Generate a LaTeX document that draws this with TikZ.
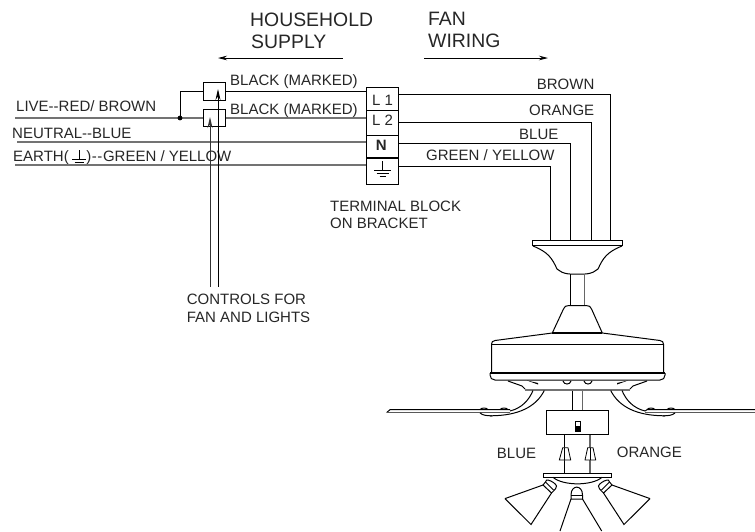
\documentclass[tikz,border=0pt]{standalone}
\usepackage{fontspec}
\setmainfont{Liberation Sans}
\usetikzlibrary{arrows.meta}
\tikzset{
  wire/.style={line width=1pt,black},
  gwire/.style={line width=1.2pt,black!55},
  part/.style={line width=1pt,black},
  lbl/.style={font=\fontsize{15}{17}\selectfont,text=black!85,inner sep=0pt,anchor=base west},
  big/.style={font=\fontsize{19.4}{22}\selectfont,text=black!85,inner sep=0pt,anchor=base west},
  arrow/.style={line width=1pt,-{Stealth[length=11pt,width=5pt]}},
  dirarrow/.style={line width=.8pt,-{Stealth[length=9pt,width=4.5pt]}},
  bx/.style={draw,line width=1pt,inner sep=0pt,minimum size=0pt,fill=white}
}
\begin{document}
\begin{tikzpicture}[x=1pt,y=-1pt]
\useasboundingbox (0,0) rectangle (755,531);
% headers
\node[big] (hh) at (250,26) {HOUSEHOLD};
\node[big] (sp) at (251,48) {SUPPLY};
\node[big] (fa) at (428,25) {FAN};
\node[big] (wi) at (428,47.3) {WIRING};
\coordinate (hs1) at (342.7,58); \coordinate (hs2) at (218,58);
\coordinate (fw1) at (424,58); \coordinate (fw2) at (548,58);
\draw[dirarrow] (hs1) -- (hs2);
\draw[dirarrow] (fw1) -- (fw2);
% supply lines
\coordinate (liveL) at (15,118); \coordinate (dot) at (180,118);
\coordinate (neuL) at (17,142); \coordinate (earL) at (15,165);
\node[lbl] (lv) at (16,111.7) {LIVE-{}-RED/ BROWN};
\node[lbl] (ne) at (12,138) {NEUTRAL-{}-BLUE};
\node[lbl] (ea) at (13,161) {EARTH(\hspace{17.5pt})\hspace{.6pt}-\hspace{.6pt}-\hspace{.6pt}GREEN / YELLOW};
\draw[line width=.8pt] (72,159.5)--(86,159.5) (79,150)--(79,159.5) (74.5,162)--(83.5,162) (76.5,164)--(81.5,164);
% terminal block
\node[bx,minimum width=32pt,minimum height=23.4pt] (L1) at (382.7,99) {};
\node[bx,minimum width=32pt,minimum height=25pt] (L2) at (382.7,123.2) {};
\node[bx,minimum width=32pt,minimum height=22.3pt] (N) at (382.7,146.8) {};
\node[bx,minimum width=32pt,minimum height=26pt] (E) at (382.7,171) {};
\node[lbl] (t1) at (372,105) {L 1};
\node[lbl] (t2) at (372,125.7) {L 2};
\node[lbl,font=\fontsize{15}{17}\selectfont\bfseries] (t3) at (375.7,150) {N};
\draw[line width=.8pt] (374,170)--(391,170) (382.5,161)--(382.5,170) (376.5,173)--(388.5,173) (379.5,176)--(385.5,176);
% switches
\node[bx,minimum width=22pt,minimum height=17.5pt] (S1) at (214,91.5) {};
\node[bx,minimum width=22pt,minimum height=17.5pt] (S2) at (214,118) {};
\draw[gwire] (liveL) -- (dot);
\draw[gwire] (dot) -- (S2.west);
\draw[wire] (dot) |- (S1.west);
\fill (dot) circle (2.4pt);
\draw[gwire] (neuL) -- (N.west |- neuL);
\draw[gwire] (earL) -- (E.west |- earL);
\draw[wire] (S1.east) -- (L1.west |- S1.east);
\draw[gwire] (S2.east) -- (L2.west |- S2.east);
\node[lbl] (b1) at (230,85) {BLACK (MARKED)};
\node[lbl] (b2) at (230,114) {BLACK (MARKED)};
\coordinate (c1) at (218,286.7); \coordinate (c1t) at (218,89);
\coordinate (c2) at (210,286.7); \coordinate (c2t) at (210,117);
\draw[arrow] (c1) -- (c1t);
\draw[arrow,black!80] (c2) -- (c2t);
\node[lbl] (ct1) at (186.7,304) {CONTROLS FOR};
\node[lbl] (ct2) at (186.7,322.7) {FAN AND LIGHTS};
\node[lbl] (tb1) at (330,211.7) {TERMINAL BLOCK};
\node[lbl] (tb2) at (330,228) {ON BRACKET};
% fan wires
\coordinate (wE) at (550.5,241); \coordinate (wB) at (570,241);
\coordinate (wO) at (591,241); \coordinate (wBr) at (610,241);
\draw[wire] (L1.east |- 0,94.3) -- (610,94.3) -- (wBr);
\draw[wire] (L2.east |- 0,122.3) -- (591,122.3) -- (wO);
\draw[wire] (N.east |- 0,143) -- (570,143) -- (wB);
\draw[wire] (E.east |- 0,166) -- (550.5,166) -- (wE);
\node[lbl] (w1) at (536.7,89) {BROWN};
\node[lbl] (w2) at (529,115.7) {ORANGE};
\node[lbl] (w3) at (519,139) {BLUE};
\node[lbl] (w4) at (426,160.7) {GREEN / YELLOW};
\node[lbl] (w5) at (496.7,458.7) {BLUE};
\node[lbl] (w6) at (616.7,457.7) {ORANGE};
% canopy
\draw[part] (532,240.7) rectangle (622.7,245.7);
\draw[part] (533,246) .. controls (548,252) and (552,258) .. (557,269) -- (560,271) .. controls (562,273) and (568,274) .. (570,274) -- (585,274) .. controls (587,274) and (593,273) .. (595,271) -- (598,269) .. controls (603,258) and (607,252) .. (622,246);
\draw[part] (570.3,274) -- (570.3,305);
\draw[line width=1.2pt,black!60] (584.3,274) -- (584.3,305);
% collar
\draw[part] (552.3,333) -- (563,310) .. controls (565,306) and (566,305.5) .. (569,305.5) -- (586,305.5) .. controls (589,305.5) and (590,306) .. (592,310) -- (602.3,333);
\draw[line width=1.3pt] (552.3,333) -- (602.3,333);
% housing
\draw[part] (552.3,333) -- (495,340.5) .. controls (492.5,341) and (491.5,342) .. (491.5,344.3) -- (491.5,373);
\draw[part] (602.3,333) -- (660,340.5) .. controls (662.5,341) and (663.5,342) .. (663.5,344.3) -- (663.5,373);
\draw[part] (491.5,344.3) -- (663.5,344.3);
\draw[line width=1.3pt] (490,373) -- (665,373);
\draw[part] (490,373) -- (490,375) .. controls (490,378) and (492,380) .. (495,380) -- (660,380) .. controls (663,380) and (665,378) .. (665,375) -- (665,373);
% underside
\draw[part] (508,381) -- (522,386) -- (525,389);
\draw[part] (647,381) -- (633,386) -- (630,389);
\draw[line width=2pt,black!55] (525,389.5) -- (630,389.5);
\fill (527,380.5) -- (538,383) -- (538,384.5) -- cycle;
\fill (628,380.5) -- (617,383) -- (617,384.5) -- cycle;
\draw[part] (563,381) .. controls (564,385) and (570,385) .. (571,381);
\draw[part] (584,381) .. controls (585,385) and (591,385) .. (592,381);
% rod below
\draw[part] (572.3,390.5) -- (572.3,410.7);
\draw[line width=1.2pt,black!60] (582.3,390.5) -- (582.3,410.7);
% blades
\draw[part] (386.7,412.5) -- (390,409.7) -- (510,409.7);
\draw[line width=1.2pt,black!65] (386.7,412.8) -- (510,412.8);
\draw[part] (480,413) .. controls (483,415.5) and (487,415.8) .. (492,415.8);
\draw[part] (480,409.5) .. controls (482,407.5) and (486,407.5) .. (488,409.5) (500,409.5) .. controls (502,407.5) and (506,407.5) .. (508,409.5);
\draw[part] (533,390.5) .. controls (529,400) and (522,408) .. (510,411);
\draw[part] (544.3,390.5) .. controls (536,407) and (518,415.8) .. (490,415.8);
\draw[part] (755,409.7) -- (647,409.7) -- (645,411);
\draw[line width=1.2pt,black!65] (755,412.8) -- (645,412.8);
\draw[part] (675,413) .. controls (672,415.5) and (668,415.8) .. (663,415.8);
\draw[part] (675,409.5) .. controls (673,407.5) and (669,407.5) .. (667,409.5) (655,409.5) .. controls (653,407.5) and (649,407.5) .. (647,409.5);
\draw[part] (622,390.5) .. controls (626,400) and (633,408) .. (645,411);
\draw[part] (610.7,390.5) .. controls (619,407) and (637,415.8) .. (665,415.8);
% switch box
\node[bx,minimum width=62pt,minimum height=24pt] (box) at (577.3,422.7) {};
\draw[line width=.8pt] (575,421) rectangle (580,431);
\fill (575,426) rectangle (580,431);
% light wires
\coordinate (p1) at (564.7,473.5); \coordinate (p2) at (590,473.5);
\draw[part] (box.south -| p1) -- (p1);
\draw[line width=1.2pt,black!60] (box.south -| p2) -- (p2);
\draw[line width=.8pt,fill=white] (562.7,447.7) -- (568,447.7) -- (570.7,460) -- (559.3,460) -- cycle;
\draw[line width=.8pt,fill=white] (587.7,447.7) -- (593,447.7) -- (595.7,460) -- (585,460) -- cycle;
\draw[line width=.8pt] (564.7,447.7)--(564.7,460) (590,447.7)--(590,460);
% plate
\draw[part] (543.3,473.3) rectangle (611,477.3);
\draw[part] (553,477.3) .. controls (563,486) and (592,486) .. (602,477.3);
% lamps
\draw[part] (505,498.6) -- (543,485) (505,498.6) -- (531,524.5) -- (551.5,493);
\draw[part,fill=white] (545.5,482) .. controls (546,480) and (547,479.5) .. (548,480) .. controls (552,481) and (556,484) .. (556.5,486) .. controls (556.5,488) and (555,489.5) .. (553.5,491) -- (551.5,493) -- (543,485) -- cycle;
\draw[part] (545.5,482) -- (553.5,490);
\draw[part] (650,498.6) -- (612,485) (650,498.6) -- (624,524.5) -- (603.5,493);
\draw[part,fill=white] (609.5,482) .. controls (609,480) and (608,479.5) .. (607,480) .. controls (603,481) and (599,484) .. (598.5,486) .. controls (598.5,488) and (600,489.5) .. (601.5,491) -- (603.5,493) -- (612,485) -- cycle;
\draw[part] (609.5,482) -- (601.5,490);
\draw[part,fill=white] (571,499) -- (571,495) .. controls (571,484.5) and (582.5,484.5) .. (582.5,495) -- (582.5,499) -- cycle;
\draw[part] (571,495) -- (582.5,495);
\draw[part] (571,499) -- (560,531) (582.5,499) -- (601.7,531);
\end{tikzpicture}
\end{document}
